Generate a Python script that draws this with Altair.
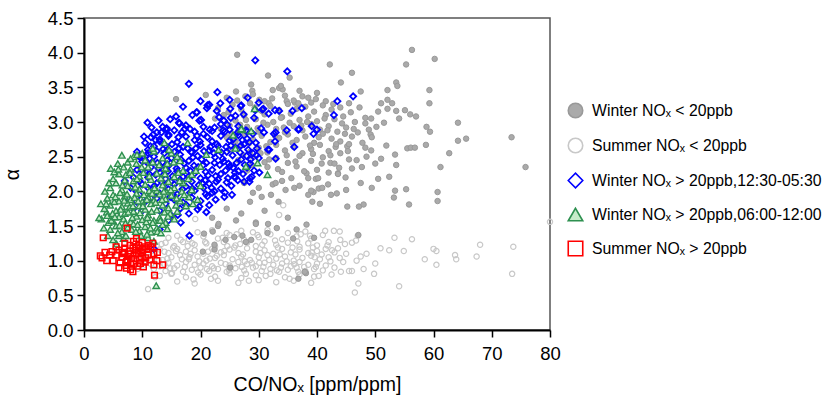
import altair as alt
import pandas as pd

L_WL = "Winter NOₓ < 20ppb"
L_SL = "Summer NOₓ < 20ppb"
L_WB = "Winter NOₓ > 20ppb,12:30-05:30"
L_WG = "Winter NOₓ > 20ppb,06:00-12:00"
L_SH = "Summer NOₓ > 20ppb"
series_order = [L_WL, L_SL, L_WB, L_WG, L_SH]

x_ticks = [0, 10, 20, 30, 40, 50, 60, 70, 80]
y_ticks = [0.0, 0.5, 1.0, 1.5, 2.0, 2.5, 3.0, 3.5, 4.0, 4.5]

summer_low = [
    (19.5,1.41),(22.0,1.44),(24.5,1.40),(27.0,1.43),(29.0,1.41),(31.5,1.44),(35.0,1.40),(38.0,1.42),(41.4,1.43),(42.9,1.43),(43.9,1.42),(47.0,1.36),
    (14.5,1.33),(16.0,1.36),(18.0,1.31),(20.5,1.35),(23.0,1.32),(25.0,1.37),(27.5,1.30),(30.0,1.34),(32.0,1.38),(34.0,1.31),(36.5,1.35),(39.0,1.32),(41.0,1.37),(44.0,1.30),(46.7,1.29),(53.3,1.33),(56.3,1.31),
    (12.5,1.22),(14.0,1.26),(15.5,1.21),(17.0,1.27),(19.0,1.23),(21.0,1.25),(22.5,1.20),(24.0,1.27),(26.0,1.22),(28.0,1.26),(29.5,1.21),(31.0,1.28),(33.0,1.23),(35.0,1.26),(37.0,1.20),(38.5,1.25),(40.0,1.22),(42.0,1.27),(43.6,1.18),(44.8,1.24),(46.0,1.26),(50.9,1.18),(68.0,1.23),(73.7,1.20),
    (11.0,1.12),(13.0,1.16),(14.5,1.11),(16.0,1.17),(17.5,1.13),(19.0,1.15),(20.5,1.10),(22.0,1.17),(23.5,1.12),(25.0,1.16),(26.5,1.11),(28.0,1.18),(29.5,1.13),(31.0,1.15),(32.5,1.10),(34.0,1.17),(35.5,1.12),(37.0,1.16),(38.5,1.11),(40.0,1.14),(41.5,1.17),(43.0,1.12),(48.5,1.10),(52.4,1.15),(54.9,1.14),(60.0,1.17),(60.5,1.14),
    (10.5,1.03),(12.0,1.07),(13.5,1.01),(15.0,1.05),(16.5,1.08),(18.0,1.02),(19.5,1.06),(21.0,1.00),(22.5,1.04),(24.0,1.08),(25.5,1.02),(27.0,1.06),(28.5,1.01),(30.0,1.05),(31.5,1.08),(33.0,1.03),(34.5,1.06),(36.0,1.00),(37.5,1.04),(39.0,1.07),(40.5,1.02),(42.0,1.05),(43.9,1.04),(47.5,1.06),(50.0,0.96),(58.5,1.02),(63.7,1.08),(63.9,1.02),(67.4,1.06),
    (11.5,0.95),(13.0,0.92),(14.5,0.97),(16.0,0.93),(17.5,0.98),(19.0,0.94),(20.5,0.96),(22.0,0.92),(23.5,0.97),(25.0,0.93),(26.5,0.98),(28.0,0.95),(29.5,0.92),(31.0,0.97),(32.5,0.94),(34.0,0.96),(35.5,0.92),(37.0,0.98),(38.5,0.94),(40.0,0.96),(41.5,0.93),(60.5,0.94),
    (12.0,0.88),(14.0,0.85),(15.5,0.89),(17.0,0.84),(18.5,0.87),(20.0,0.90),(21.5,0.85),(23.0,0.88),(24.5,0.84),(26.0,0.89),(27.5,0.86),(29.0,0.90),(30.5,0.85),(32.0,0.88),(33.5,0.84),(35.0,0.87),(36.5,0.90),(38.0,0.85),(39.5,0.88),(41.0,0.86),(44.1,0.84),(45.5,0.85),(46.0,0.85),(48.0,0.88),
    (13.0,0.78),(15.0,0.81),(17.5,0.76),(20.0,0.80),(22.5,0.77),(25.0,0.82),(27.0,0.75),(29.5,0.79),(32.0,0.81),(34.5,0.76),(37.0,0.80),(39.5,0.77),(49.8,0.81),(73.5,0.81),
    (16.0,0.70),(19.0,0.67),(23.0,0.71),(26.5,0.68),(30.0,0.72),(33.0,0.69),(36.0,0.71),(39.0,0.68),(47.1,0.67),(54.1,0.63),
    (11.0,0.59),(46.5,0.54),(19.1,1.60),(34.2,1.80),(33.5,1.66),(80.0,1.56),
    (11.8,1.09),(13.8,1.13),(15.3,1.19),(16.8,1.02),(18.3,1.10),(19.8,0.99),(21.3,1.13),(22.8,1.07),(24.3,0.95),(25.8,1.19),(27.3,1.09),(28.8,0.97),(30.3,1.11),(31.8,1.01),(33.3,1.19),(34.8,0.99),(36.3,1.09),(37.8,0.91),(39.3,1.19),(40.8,1.09),(42.3,0.99),
    (12.8,1.00),(14.3,1.03),(17.8,1.21),(20.8,1.27),(23.8,1.33),(26.8,1.24),(29.8,1.37),(32.8,1.29),(35.8,1.19),(38.8,1.36),(41.8,1.22),
    (14.8,0.89),(17.3,0.91),(19.6,0.83),(22.3,0.89),(24.9,0.87),(27.8,0.81),(30.8,0.91),(33.8,0.90),(36.8,0.84),(39.8,0.91),
    (10.2,0.93),(9.5,1.02),(10.0,1.12),(9.2,0.88),(12.2,0.76),(18.8,0.73),(21.8,0.74),(28.3,0.71),(35.3,0.74),(42.5,0.80),
    (13.3,1.24),(15.8,1.14),(18.6,1.25),(21.6,1.03),(24.6,1.21),(27.6,0.99),(30.6,1.23),(33.6,1.09),(36.6,1.28),(39.6,1.05),(15.1,0.82),(18.1,1.05),(21.1,0.88),(24.1,1.14),(27.1,0.91),(30.1,0.97),(33.1,0.86),(36.1,0.95),(39.1,1.12),(42.6,1.15),(45.0,1.10),(44.5,0.98),(46.8,1.00),(13.8,0.95),(16.6,1.30),(26.2,1.38),(31.2,0.78),(37.2,1.38),(40.3,0.78),(43.0,0.90),
]

winter_low = [
    (26.3,3.97),(56.3,4.04),(60.2,3.91),(55.3,3.83),(42.2,3.83),(46.0,3.71),(31.6,3.67),(35.3,3.64),(28.7,3.54),(44.1,3.57),(53.6,3.57),(53.8,3.52),(52.1,3.46),(59.3,3.46),(47.5,3.44),(33.5,3.49),(32.4,3.46),(26.1,3.44),(27.7,3.37),(15.8,3.33),(20.9,3.39),(30.1,3.32),
    (34.1,3.47),(33.8,3.52),(31.7,3.27),(34.8,3.30),(36.2,3.28),(37.5,3.37),(28.9,3.45),
    (59.3,3.27),(51.0,3.27),(52.1,3.32),(52.9,3.27),(52.1,3.19),(53.6,3.16),(55.1,3.17),(56.0,3.11),(57.0,3.08),(54.1,3.05),(50.5,3.15),(48.3,3.06),(49.3,3.05),(51.5,2.99),(48.3,2.98),(50.2,2.93),(48.9,2.89),(49.2,2.82),(49.4,2.78),(58.8,2.93),(59.4,2.86),(64.2,2.99),(64.2,2.73),(65.6,2.76),(73.4,2.78),(75.8,2.35),(61.2,2.35),(62.7,2.55),(58.7,2.67),(55.5,2.62),(56.1,2.63),(56.8,2.63),(51.9,2.66),(53.4,2.53),(53.6,2.38),(51.0,2.47),(49.3,2.59),(47.7,2.35),(52.4,2.21),(45.2,2.65),(45.5,2.68),(43.2,2.64),(43.6,2.26),(42.3,2.41),(44.9,2.20),
    (38.2,2.26),(39.8,2.18),(40.2,2.19),(43.6,2.25),(49.4,2.05),(53.4,2.01),(55.3,2.03),(53.2,1.91),(55.8,1.81),(60.7,1.99),(60.7,1.86),(38.5,1.95),(39.4,1.99),(40.3,2.04),(40.9,2.05),(41.9,2.10),(42.4,1.95),(43.4,1.97),(39.2,1.85),(40.5,1.82),(45.2,1.78),(47.2,1.78),(48.0,1.81),(38.2,1.52),(39.5,1.33),(47.1,1.37),(38.1,0.82),
    (32.1,1.95),(33.4,1.85),(34.6,2.02),(38.5,2.19),(39.0,2.01),(35.6,2.19),(36.1,2.05),(32.4,2.10),(32.9,2.12),(26.1,1.58),
    (22.0,1.62),(24.5,1.75),(27.0,1.68),(29.5,1.55),(31.0,1.72),(28.5,1.85),(30.5,1.92),(35.0,1.62),(36.5,1.45),(23.0,1.50),
    (25.1,0.90),(36.8,0.74),(37.9,0.84),(22.4,1.16),(20.4,1.13),(23.1,1.53),(29.5,1.53),(31.6,1.53),(35.9,1.32),(27.2,1.36),(25.8,1.34),(24.3,1.30),(22.4,1.23),(27.8,1.27),(28.7,1.30),(22.1,1.42),(20.6,1.39),(33.1,1.47),(31.5,1.40),
    (24.5,3.35),(29.0,3.40),(31.0,3.30),(34.5,3.38),(36.0,3.31),(38.5,3.35),(40.0,3.42),(41.5,3.30),(37.0,3.45),(39.0,3.28),
    (23.0,3.20),(25.5,3.25),(27.0,3.18),(28.5,3.27),(30.5,3.16),(32.0,3.23),(33.5,3.17),(35.0,3.26),(36.5,3.19),(38.0,3.22),(39.5,3.15),(41.0,3.24),(42.5,3.18),(44.0,3.21),(45.5,3.27),
    (22.5,3.05),(24.0,3.10),(26.0,3.02),(27.5,3.09),(29.5,3.04),(31.0,3.11),(32.5,3.00),(34.0,3.07),(35.5,3.12),(37.0,3.03),(38.5,3.08),(40.0,3.01),(41.5,3.10),(43.0,3.04),(44.5,3.08),(46.5,3.00),
    (23.5,2.90),(25.0,2.95),(26.5,2.87),(28.0,2.93),(30.0,2.86),(31.5,2.96),(33.0,2.90),(34.5,2.85),(36.0,2.94),(37.5,2.88),(39.0,2.97),(40.5,2.89),(42.0,2.94),(43.5,2.86),(45.0,2.92),(47.0,2.85),
    (24.5,2.78),(26.0,2.72),(27.5,2.81),(29.0,2.75),(30.5,2.80),(32.0,2.71),(33.5,2.77),(35.0,2.82),(36.5,2.74),(38.0,2.79),(39.5,2.70),(41.0,2.83),(42.5,2.76),(44.0,2.72),(46.0,2.79),
    (25.0,2.60),(27.0,2.66),(28.5,2.57),(30.0,2.63),(31.5,2.56),(33.0,2.67),(34.5,2.59),(36.0,2.64),(37.5,2.55),(39.0,2.61),(40.5,2.67),(42.0,2.58),(44.0,2.55),
    (26.5,2.45),(29.0,2.50),(31.0,2.42),(33.0,2.48),(35.0,2.41),(37.0,2.51),(39.0,2.44),(41.0,2.49),(43.0,2.40),(45.5,2.46),(48.5,2.50),
    (28.0,2.30),(31.5,2.35),(34.0,2.28),(36.5,2.36),(40.0,2.31),(42.0,2.27),(46.0,2.33),
    (27.5,2.12),(30.0,2.05),(34.0,2.15),(37.0,2.08),(45.0,2.02),(47.5,2.12),(50.5,2.18),(29.0,1.98),
    (24.8,3.14),(26.3,3.31),(27.8,3.03),(29.3,3.21),(30.8,2.99),(32.3,3.34),(33.8,3.06),(35.3,2.99),(36.8,3.27),(38.3,3.00),(39.8,3.33),(41.3,3.05),(42.8,3.26),(44.3,2.98),(45.8,3.14),(47.3,3.21),
    (25.3,2.83),(26.8,2.96),(28.3,2.69),(29.8,2.91),(31.3,2.65),(32.8,2.80),(34.3,2.92),(35.8,2.70),(37.3,2.95),(38.8,2.66),(40.3,2.78),(41.8,2.88),(43.3,2.68),(44.8,2.83),(46.3,2.90),(47.8,2.70),
    (27.3,2.52),(28.8,2.38),(30.3,2.55),(31.8,2.46),(33.3,2.32),(34.8,2.52),(36.3,2.43),(37.8,2.29),(39.3,2.54),(40.8,2.40),(42.3,2.52),(43.8,2.34),(45.3,2.58),(46.8,2.45),(48.3,2.63),(50.0,2.40),
]

winter_night = [
    (29.4,3.89),(34.9,3.73),(18.0,3.55),(46.2,3.37),(43.5,3.30),(42.9,3.10),(39.1,2.94),(40.0,2.89),(39.4,2.83),(36.8,2.89),(36.1,2.64),(34.8,2.88),(32.9,2.85),(32.8,2.72),(32.9,2.47),
    (37.4,3.20),(35.8,3.16),(33.5,3.16),(31.7,3.12),(30.6,3.18),(30.0,3.28),(28.1,3.35),(26.9,3.23),(29.2,3.06),(30.4,2.91),(31.8,2.60),(28.5,2.19),(27.5,2.14),(25.8,2.21),
    (22.9,3.43),(25.0,3.32),(21.5,3.25),(21.1,3.20),(23.4,3.27),(25.1,3.19),(27.0,3.24),(30.8,3.19),(19.3,3.14),(14.8,3.04),(16.3,2.99),(14.2,2.91),(20.1,3.03),(23.2,3.07),(25.2,3.06),(27.4,3.11),(29.4,3.17),(32.8,3.17),(36.9,2.90),(32.6,2.83),(31.6,2.60),(30.9,2.85),
    (10.3,2.79),(9.1,2.57),(10.0,2.43),(16.4,2.98),(14.1,2.90),(14.5,2.80),(12.3,2.74),(11.4,2.65),(19.4,3.14),(21.2,3.24),(19.8,3.02),(9.1,2.31),
    (8.0,2.05),(8.5,2.20),(9.5,2.50),(10.5,2.70),(11.0,2.55),(11.5,2.78),(12.0,2.65),(12.5,2.85),(13.0,2.72),(13.5,2.93),(9.0,1.85),(9.5,1.95),(10.0,2.10),(10.5,2.28),(11.0,2.40),(8.5,1.75),(7.5,1.90),(7.0,2.15),(10.0,1.72),(11.5,1.90),
    (15.5,2.88),(17.5,2.95),(19.0,2.86),(20.5,2.93),(22.0,2.87),(23.5,2.97),(25.0,2.89),(26.5,2.94),(28.0,2.86),
    (13.0,2.75),(14.5,2.82),(16.0,2.71),(17.5,2.79),(19.0,2.74),(20.5,2.83),(22.0,2.72),(23.5,2.80),(25.0,2.73),(26.5,2.81),(28.0,2.76),(29.5,2.70),
    (11.0,2.60),(12.5,2.58),(14.0,2.66),(15.5,2.57),(17.0,2.64),(18.5,2.56),(20.0,2.67),(21.5,2.59),(23.0,2.65),(24.5,2.57),(26.0,2.63),(27.5,2.68),(29.0,2.55),
    (10.5,2.45),(12.0,2.50),(13.5,2.42),(15.0,2.48),(16.5,2.53),(18.0,2.44),(19.5,2.51),(21.0,2.41),(22.5,2.49),(24.0,2.43),(25.5,2.52),(27.0,2.46),(28.5,2.40),(30.0,2.48),
    (10.0,2.30),(11.5,2.35),(13.0,2.27),(14.5,2.37),(16.0,2.29),(17.5,2.34),(19.0,2.26),(20.5,2.38),(22.0,2.31),(23.5,2.25),(25.0,2.36),(26.5,2.29),(28.0,2.34),
    (9.5,2.15),(11.0,2.20),(12.5,2.12),(14.0,2.18),(15.5,2.10),(17.0,2.21),(18.5,2.14),(20.0,2.19),(21.5,2.11),(23.0,2.17),(24.5,2.13),(26.0,2.20),
    (9.0,2.00),(11.0,2.05),(13.0,1.97),(14.5,2.03),(16.0,1.96),(17.5,2.07),(19.0,2.01),(20.5,2.05),(22.0,1.98),(23.5,2.04),
    (10.5,1.85),(12.5,1.90),(14.0,1.82),(15.5,1.88),(17.0,1.84),(18.5,1.91),(20.0,1.86),(21.5,1.80),
    (13.0,1.72),(15.0,1.65),(16.5,1.75),(18.0,1.68),(19.5,1.74),(21.0,1.70),
    (14.2,2.89),(16.8,2.85),(18.2,2.90),(21.2,2.78),(24.2,2.86),(27.2,2.74),(13.8,2.55),(16.3,2.62),(19.2,2.62),(22.3,2.55),(25.2,2.66),(28.2,2.60),(11.7,2.42),(14.3,2.45),(17.2,2.40),(20.2,2.46),(23.3,2.38),(26.2,2.41),(29.2,2.30),(12.3,2.24),(15.2,2.22),(18.3,2.29),(21.3,2.23),(24.3,2.30),(27.3,2.25),(13.7,2.09),(16.7,2.15),(19.7,2.09),(22.7,2.14),(25.3,2.08),(12.0,1.98),(15.3,1.95),(18.2,1.98),(21.2,1.93),(24.2,1.98),
    (18.1,1.36),(12.0,1.17),(16.1,1.66),(16.6,1.55),(24.1,1.92),(22.4,2.00),(28.8,2.21),(30.1,2.27),(20.9,1.96),(14.5,1.58),(13.0,1.45),
    (12.8,2.33),(13.6,2.61),(14.9,2.14),(15.7,2.44),(16.2,2.78),(17.9,2.21),(18.7,2.49),(19.4,2.80),(20.8,2.16),(21.7,2.64),(22.4,2.92),(23.8,2.47),(24.7,2.19),(25.6,2.75),(26.8,2.56),(27.8,2.88),(28.6,2.46),(29.7,2.62),
    (12.1,2.08),(13.3,2.85),(14.7,2.57),(15.9,2.33),(16.9,2.03),(17.8,2.62),(18.9,2.37),(19.9,2.72),(20.9,2.28),(21.9,2.05),(22.8,2.68),(23.9,2.88),(24.8,2.40),(25.9,2.27),(26.9,2.66),(27.9,2.51),(29.0,2.83),
    (11.2,2.25),(11.9,2.82),(13.9,2.36),(15.1,2.68),(16.6,2.46),(17.3,2.90),(18.6,2.04),(19.6,2.35),(20.6,2.58),(21.6,2.89),(22.6,2.22),(23.6,2.56),(24.6,2.96),(25.6,2.34),(26.4,2.16),(27.6,2.38),(28.4,2.71),(29.6,2.52),
    (10.8,2.52),(12.6,2.41),(14.4,2.29),(16.4,2.16),(18.4,2.57),(20.4,2.11),(22.4,2.41),(24.4,2.64),(26.4,2.85),(28.4,2.14),(17.6,1.80),(19.8,1.78),(14.8,1.92),(22.6,1.88),(25.4,1.95),(15.8,3.08),(18.6,3.10),(22.8,3.16),(24.0,3.02),(26.0,3.09),(17.0,3.22),(20.0,3.30),(12.8,3.02),(11.6,2.92),(10.9,2.99),
]

winter_morning = [
    (4.6,2.33),(5.8,2.40),(3.9,1.70),(3.4,1.47),(5.6,1.24),(12.4,0.64),(31.5,2.24),(29.3,3.19),(27.2,2.89),(28.7,2.87),(29.8,2.41),(27.8,2.36),
    (27.0,2.90),(25.6,2.81),(17.8,2.70),(13.8,2.70),(26.0,2.62),(23.1,2.60),(21.0,2.53),
    (8.5,2.50),(9.1,2.53),(10.5,2.45),(12.0,2.58),(13.5,2.48),(15.0,2.55),(16.5,2.44),(7.5,2.42),
    (6.0,2.25),(7.0,2.16),(8.0,2.32),(9.5,2.22),(11.0,2.35),(12.5,2.26),(14.0,2.33),(15.5,2.21),(17.0,2.30),(18.5,2.24),(20.0,2.36),
    (4.5,2.05),(5.5,2.12),(6.5,2.02),(7.5,2.08),(8.5,2.15),(9.5,2.03),(10.5,2.10),(11.5,2.17),(12.5,2.01),(13.5,2.09),(14.5,2.14),(15.5,2.05),(17.0,2.12),(18.5,2.02),(20.0,2.08),
    (4.0,1.90),(5.0,1.95),(6.0,1.86),(7.0,1.93),(8.0,1.88),(9.0,1.97),(10.0,1.85),(11.0,1.92),(12.0,1.87),(13.0,1.96),(14.0,1.89),(15.0,1.94),(16.5,1.86),(18.0,1.92),(19.5,1.88),
    (3.5,1.75),(4.5,1.80),(5.5,1.72),(6.5,1.78),(7.5,1.83),(8.5,1.71),(9.5,1.79),(10.5,1.74),(11.5,1.82),(12.5,1.73),(13.5,1.80),(14.5,1.76),(16.0,1.71),(17.5,1.79),
    (3.0,1.60),(4.0,1.65),(5.0,1.57),(6.0,1.63),(7.0,1.68),(8.0,1.56),(9.0,1.64),(10.0,1.59),(11.0,1.66),(12.0,1.58),(13.0,1.62),(14.0,1.55),(15.5,1.60),
    (4.5,1.45),(5.5,1.50),(6.5,1.42),(7.5,1.48),(8.5,1.53),(9.5,1.43),(10.5,1.49),(11.5,1.41),(12.5,1.47),(13.5,1.52),
    (5.0,1.30),(6.0,1.36),(11.0,1.33),(12.0,1.28),(6.8,1.32),
    (5.2,2.28),(6.8,2.35),(9.0,2.40),(11.8,2.42),(14.3,2.40),(5.0,2.18),(7.2,2.24),(10.2,2.27),(13.2,2.19),(16.2,2.27),(6.2,1.98),(8.8,2.06),(11.2,2.01),(14.2,1.99),(16.8,2.00),(5.2,1.85),(7.8,1.77),(10.8,1.88),(13.8,1.70),(15.8,1.80),(4.2,1.55),(6.8,1.60),(9.2,1.52),(11.8,1.55),(14.8,1.68),(5.8,1.40),(8.2,1.45),(10.8,1.38),(7.2,1.36),
    (3.8,1.82),(4.3,2.12),(4.9,1.68),(5.4,1.92),(5.9,2.32),(6.3,1.74),(6.6,2.09),(7.1,1.54),(7.4,1.96),(7.9,2.27),(8.3,1.62),(8.7,1.91),(9.1,2.18),(9.6,1.69),(9.9,2.35),(10.3,1.95),(10.7,1.56),(11.2,2.22),(11.6,1.71),(12.1,2.05),(12.6,1.42),(12.9,2.38),(13.4,1.88),(13.9,2.25),(14.4,1.64),(14.9,2.02),(15.4,2.42),(15.9,1.90),(16.4,2.15),(17.2,1.95),(17.9,2.18),(18.7,1.82),(19.2,2.30),(8.0,2.47),(10.0,2.55),(11.8,2.62),(14.6,2.60),(16.0,2.50),(6.5,2.52),
    (4.1,1.36),(4.7,1.58),(5.3,1.63),(6.1,1.51),(6.9,1.87),(7.6,1.70),(8.4,1.79),(9.3,1.86),(10.1,1.79),(10.9,1.62),(11.7,1.97),(12.3,1.84),(13.1,1.58),(13.7,2.00),(2.6,1.62),(2.9,1.82),(3.6,2.00),(9.8,1.36),(8.9,1.42),(11.4,1.47),(13.2,1.40),(14.3,1.46),
]

summer_high = [
    (7.4,1.47),(3.3,1.33),(3.1,1.04),(12.1,0.79),(13.5,0.94),(4.8,1.13),(5.6,1.08),(4.4,1.08),(7.3,0.89),(8.4,0.84),(8.0,0.87),(12.0,0.94),(11.1,1.22),(9.4,1.22),(7.9,1.22),(10.1,1.16),
    (6.0,1.15),(6.5,1.05),(7.0,1.18),(7.5,1.00),(8.0,1.10),(8.5,0.95),(9.0,1.20),(9.5,1.02),(10.0,1.12),(10.5,0.98),(11.0,1.08),(6.2,0.97),(6.8,1.10),(7.2,0.93),(7.8,1.14),(8.2,1.03),(8.8,1.15),(9.2,0.92),(9.8,1.06),(10.2,0.91),(10.8,1.17),(11.3,1.01),
    (7.0,1.25),(8.5,1.28),(10.0,1.26),(9.0,1.32),(11.5,1.20),(12.0,1.10),(12.5,1.00),(5.5,1.20),(5.0,1.00),(6.0,0.90),(8.0,0.97),(9.3,1.10),(7.6,1.06),(8.6,1.08),(10.6,1.04),(9.7,0.96),(6.6,1.12),(7.3,0.99),(8.4,1.18),(9.6,1.18),(10.4,1.20),(11.8,1.25),(12.6,1.12),(3.6,1.12),(2.8,1.07),(3.9,1.00),
]

rows = []
for name, pts in [(L_SL, summer_low), (L_WL, winter_low), (L_WB, winter_night), (L_WG, winter_morning), (L_SH, summer_high)]:
    for (xv, yv) in pts:
        rows.append({"x": xv, "y": yv, "series": name})
df = pd.DataFrame(rows)

FONT = "Liberation Sans"
legend = alt.Legend(
    title=None, orient="none", legendX=483, legendY=84,
    labelFontSize=15.8, labelFont=FONT, labelColor="black",
    symbolSize=210, symbolStrokeWidth=1.6, rowPadding=14, labelOffset=8,
    padding=0, labelLimit=400,
)

base = alt.Chart(df).encode(
    x=alt.X("x:Q", scale=alt.Scale(domain=[0, 80], nice=False, zero=False),
            axis=alt.Axis(values=x_ticks, title="CO/NOₓ [ppm/ppm]", labelFlush=False,
                          labelOverlap=False, titlePadding=13, labelPadding=7)),
    y=alt.Y("y:Q", scale=alt.Scale(domain=[0, 4.5], nice=False, zero=False),
            axis=alt.Axis(values=y_ticks, format=".1f", title="α", labelFlush=False,
                          labelOverlap=False, titlePadding=25, labelPadding=4)),
    shape=alt.Shape("series:N", scale=alt.Scale(domain=series_order,
                    range=["circle", "circle", "diamond", "triangle-up", "square"]), legend=legend),
    fill=alt.Fill("series:N", scale=alt.Scale(domain=series_order,
                  range=["#aaaaaa", "transparent", "transparent", "#c6ecc9", "transparent"]), legend=legend),
    stroke=alt.Stroke("series:N", scale=alt.Scale(domain=series_order,
                      range=["#999999", "#c8c8c8", "#0000ff", "#2e9050", "#ff0000"]), legend=legend),
)

layer_style = [
    (L_SL, 28, 1.2),
    (L_WL, 30, 1.0),
    (L_WB, 38, 1.8),
    (L_WG, 42, 1.4),
    (L_SH, 32, 1.5),
]
layers = [
    base.transform_filter(alt.datum.series == name).mark_point(opacity=1, size=sz, strokeWidth=sw)
    for name, sz, sw in layer_style
]

chart = alt.layer(*layers).properties(
    width=466, height=312,
    autosize=alt.AutoSizeParams(type="none"),
    padding={"left": 84, "top": 18, "right": 281, "bottom": 71},
).configure_view(
    stroke="#555555", strokeWidth=1.5,
).configure_axis(
    grid=False, domainColor="black", domainWidth=2, tickColor="black", tickWidth=1.5,
    tickSize=7, labelFont=FONT, labelFontSize=18.5, labelColor="black",
    titleFont=FONT, titleFontSize=19.5, titleColor="black", titleFontWeight="normal",
)

chart.save("out.html", embed_options={"renderer": "svg", "actions": False})
